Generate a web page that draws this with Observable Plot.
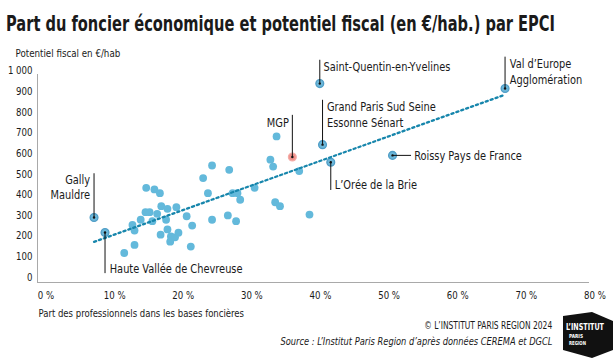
<!DOCTYPE html>
<html><head><meta charset="utf-8">
<script src="https://cdn.jsdelivr.net/npm/d3@7"></script>
<script src="https://cdn.jsdelivr.net/npm/@observablehq/plot@0.6"></script>
<style>
body{margin:0;background:#fff;}
#wrap{position:relative;width:613px;height:362px;overflow:hidden;font-family:"Liberation Sans Narrow","DejaVu Sans Condensed",sans-serif;color:#1a1a1a}
#title{position:absolute;left:6px;top:14px;font-size:21px;line-height:21px;font-weight:bold;white-space:nowrap;transform-origin:0 0}
#chart{position:absolute;left:0;top:40px}
#copy{position:absolute;right:61px;top:318.6px;font-size:11px;line-height:13px;white-space:nowrap;transform-origin:100% 0}
#source{position:absolute;right:61px;top:334.6px;font-size:11px;line-height:13px;font-style:italic;white-space:nowrap;transform-origin:100% 0}
#logo{position:absolute;left:0;top:0}
</style></head>
<body>
<div id="wrap">
  <div id="title">Part du foncier économique et potentiel fiscal (en €/hab.) par EPCI</div>
  <div id="chart"></div>
  <div id="copy">© L’INSTITUT PARIS REGION 2024</div>
  <div id="source">Source : L’Institut Paris Region d’après données CEREMA et DGCL</div>
  <svg id="logo" width="613" height="362">
    <polygon points="563,316 592,312 613,321 613,350 592,358 563,350" fill="#111"/>
    <text x="566" y="330" fill="#fff" font-size="8" font-weight="bold" textLength="38" lengthAdjust="spacingAndGlyphs" font-family="DejaVu Sans Condensed, sans-serif">L’INSTITUT</text>
    <text x="569" y="338" fill="#fff" font-size="5.5" font-weight="bold" textLength="14" lengthAdjust="spacingAndGlyphs" font-family="DejaVu Sans Condensed, sans-serif">PARIS</text>
    <text x="569" y="345" fill="#fff" font-size="5.5" font-weight="bold" textLength="17" lengthAdjust="spacingAndGlyphs" font-family="DejaVu Sans Condensed, sans-serif">REGION</text>
  </svg>
</div>
<script>
// ---- Data ----
const epci = [
  "Gally Mauldre","Haute Vallée de Chevreuse","","","","","","","","","","","","","","","","","","","","","","","","","","","","","","","","","","","","","","","",
  "MGP","","","","","Grand Paris Sud Seine Essonne Sénart","L’Orée de la Brie","Roissy Pays de France","Saint-Quentin-en-Yvelines","Val d’Europe Agglomération"
];
const partPro = [
  7.0, 8.6, 11.4, 12.9, 12.6, 12.9, 13.8, 14.5, 15.1, 15.5, 16.2, 14.6, 15.8, 16.6, 16.8, 17.7, 17.5, 19.0, 16.7, 17.7, 18.2, 18.1, 18.8, 19.3, 20.5, 21.3, 21.1, 22.9, 24.2, 23.6, 24.2, 26.7, 27.2, 27.9, 28.3, 26.5, 27.7, 30.4, 32.7, 33.1, 33.6,
  35.9, 36.9, 33.4, 34.1, 38.4, 40.3, 41.5, 50.5, 39.9, 66.9
];
const potentielFiscal = [
  290, 217, 118, 157, 254, 227, 279, 316, 316, 272, 308, 434, 426, 408, 345, 332, 279, 340, 207, 232, 198, 173, 194, 216, 296, 251, 149, 481, 542, 408, 279, 521, 408, 408, 376, 300, 272, 434, 570, 537, 683,
  583, 515, 364, 345, 304, 643, 558, 591, 939, 915
];
const trendPart = [7.0, 66.9];
const trendPot = [172, 885];
const xTicks = [0, 10, 20, 30, 40, 50, 60, 70, 80];
const yTicks = [0, 100, 200, 300, 400, 500, 600, 700, 800, 900, 1000];
const xTitle = "Part des professionnels dans les bases foncières";
const yTitle = "Potentiel fiscal en €/hab";

// ---- Annotation layout (label text, leader length in data units, text offsets in px) ----
const layout = {
  "Gally Mauldre": {text: "Gally\nMauldre", ly: 212, anchor: "end", dx: -4, dy: -31},
  "Haute Vallée de Chevreuse": {text: "Haute Vallée de Chevreuse", ly: -199, anchor: "start", dx: 4.7, dy: 35.3},
  "MGP": {text: "MGP", ly: 202, anchor: "end", dx: -3.5, dy: -35},
  "Saint-Quentin-en-Yvelines": {text: "Saint-Quentin-en-Yvelines", ly: 113, anchor: "start", dx: 3.7, dy: -17.3},
  "Val d’Europe Agglomération": {text: "Val d’Europe\nAgglomération", ly: 152, anchor: "start", dx: 4.7, dy: -17.5},
  "Grand Paris Sud Seine Essonne Sénart": {text: "Grand Paris Sud Seine\nEssonne Sénart", ly: 215, anchor: "start", dx: 4.4, dy: -30.5},
  "L’Orée de la Brie": {text: "L’Orée de la Brie", ly: -137, anchor: "start", dx: 4, dy: 22.3},
  "Roissy Pays de France": {text: "Roissy Pays de France", lx: 2.77, anchor: "start", dx: 21.6, dy: 0}
};

const pts = epci.map((name, i) => ({name, x: partPro[i], y: potentielFiscal[i]}));
const plain = pts.filter(d => !d.name);
const labeled = pts.filter(d => d.name && d.name !== "MGP");
const mgp = pts.filter(d => d.name === "MGP");
const annotated = pts.filter(d => d.name).map(d => ({...d, ...layout[d.name]}));
const trend = trendPart.map((x, i) => ({x, y: trendPot[i]}));

const font = "Liberation Sans Narrow, DejaVu Sans Condensed, sans-serif";
const textMarks = annotated.map(d => Plot.text([d], {
  x: "x", y: "y", text: "text", textAnchor: d.anchor, lineAnchor: "middle",
  dx: d.dx, dy: d.dy, fontSize: 12, lineHeight: 1.3, fill: "#1a1a1a"
}));

const chart = Plot.plot({
  width: 613, height: 285,
  marginLeft: 37, marginRight: 25, marginTop: 34, marginBottom: 43,
  x: {domain: [-1.24, 79.06]},
  y: {domain: [-25, 983]},
  style: {fontFamily: font, fontSize: "11px", color: "#1a1a1a", background: "transparent", overflow: "visible"},
  marks: [
    Plot.frame({anchor: "left", stroke: "#a9a9a9"}),
    Plot.frame({anchor: "bottom", stroke: "#a9a9a9"}),
    Plot.axisY({ticks: yTicks, tickSize: 0, tickPadding: 5, label: null, fontSize: 10.5,
      tickFormat: d => d >= 1000 ? d3.format(",")(d).replace(",", "\u00a0") : String(d)}),
    Plot.axisX({ticks: xTicks, tickSize: 0, tickPadding: 9, label: null, fontSize: 10.5, tickFormat: d => d + "\u00a0%"}),
    Plot.text([yTitle], {frameAnchor: "top-left", text: d => d, textAnchor: "start", lineAnchor: "middle", dx: -22, dy: -21, fontSize: 11}),
    Plot.text([xTitle], {frameAnchor: "bottom-left", text: d => d, textAnchor: "start", lineAnchor: "middle", dx: 1, dy: 30.7, fontSize: 11}),
    Plot.dot(plain, {x: "x", y: "y", r: 3.9, fill: "#63b9db"}),
    Plot.dot(labeled, {x: "x", y: "y", r: 3.9, fill: "#6cb7d9", stroke: "#4f9dc6", strokeWidth: 1.3}),
    Plot.dot(mgp, {x: "x", y: "y", r: 3.9, fill: "#ef918b", stroke: "#f4aca7", strokeWidth: 1.3}),
    Plot.line(trend, {x: "x", y: "y", stroke: "#1786ac", strokeWidth: 2.3, strokeDasharray: "2.2 3"}),
    Plot.ruleX(annotated.filter(d => d.ly !== undefined), {x: "x", y1: "y", y2: d => d.y + d.ly, stroke: "#111", strokeWidth: 1}),
    Plot.ruleY(annotated.filter(d => d.lx !== undefined), {y: "y", x1: "x", x2: d => d.x + d.lx, stroke: "#111", strokeWidth: 1}),
    Plot.dot(annotated, {x: "x", y: "y", r: 1.2, fill: "#111"}),
    ...textMarks
  ]
});
document.getElementById("chart").appendChild(chart);

// Condense text to mimic the narrow typeface of the reference
function condense(el, f) {
  const w = el.getComputedTextLength();
  if (w > 0) { el.setAttribute("textLength", (w * f).toFixed(2)); el.setAttribute("lengthAdjust", "spacingAndGlyphs"); }
}
chart.querySelectorAll("text").forEach(t => {
  const spans = t.querySelectorAll("tspan");
  const f = t.textContent === xTitle ? 0.86 : t.textContent === yTitle ? 0.88 : 0.91;
  if (spans.length) spans.forEach(s => condense(s, f)); else condense(t, f);
});
function fitWidth(id, target) {
  const el = document.getElementById(id);
  const w = el.getBoundingClientRect().width;
  el.style.transform = `scaleX(${target / w})`;
}
fitWidth("title", 549);
fitWidth("copy", 128);
fitWidth("source", 272);
</script>
</body></html>
